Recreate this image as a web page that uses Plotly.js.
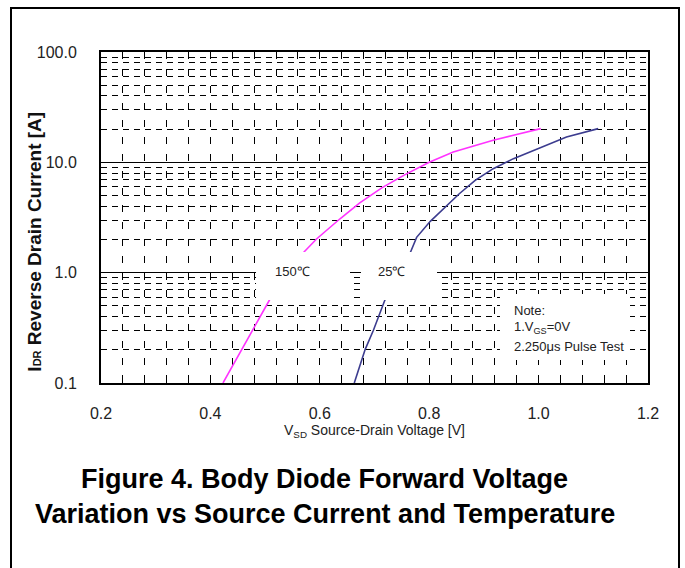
<!DOCTYPE html>
<html><head><meta charset="utf-8">
<script src="https://cdn.plot.ly/plotly-3.0.1.min.js"></script>
<style>
html,body{margin:0;padding:0;background:#fff;overflow:hidden}
#chart{width:685px;height:568px;}
#frame{position:absolute;left:10px;top:7px;width:666px;height:600px;border:2px solid #000;pointer-events:none;}
</style></head><body>
<div id="chart"></div><div id="frame"></div>
<script>
// axis ticks
const xTickVals = [0.2, 0.4, 0.6, 0.8, 1.0, 1.2];
const xTickText = ["0.2", "0.4", "0.6", "0.8", "1.0", "1.2"];
const yTickVals = [0.1, 1, 10, 100];
const yTickText = ["0.1", "1.0", "10.0", "100.0"];

// series: 150 C
const v150 = [0.423, 0.476, 0.508, 0.569, 0.594, 0.637, 0.673, 0.714, 0.755, 0.800, 0.844, 0.875, 0.917, 0.954, 1.004];
const i150 = [0.10, 0.30, 0.565, 1.50, 2.02, 3.08, 4.3, 5.9, 7.7, 10.0, 12.4, 13.8, 15.85, 17.6, 20.2];
// series: 25 C
const v25 = [0.663, 0.683, 0.698, 0.719, 0.765, 0.777, 0.802, 0.835, 0.855, 0.884, 0.917, 0.954, 0.997, 1.051, 1.109];
const i25 = [0.10, 0.202, 0.301, 0.565, 1.50, 2.09, 2.92, 4.21, 5.19, 6.86, 8.76, 10.8, 13.3, 17.0, 20.2];

const seriesNames = ["150℃", "25℃"];
const noteLines = ["Note:", "1.V<sub>GS</sub>=0V", "2.250μs Pulse Test"];
const captionLines = ["Figure 4. Body Diode Forward Voltage", "Variation vs Source Current and Temperature"];
const xTitle = "V<sub>SD</sub> Source-Drain Voltage [V]";
const yTitle = "I<span style=\"font-size:11px\">DR</span> Reverse Drain Current [A]";

const FONT = "Liberation Sans, Arial, sans-serif";

const traces = [
  {x: v150, y: i150, name: seriesNames[0], mode: "lines", line: {color: "#ff33ff", width: 1.6}},
  {x: v25, y: i25, name: seriesNames[1], mode: "lines", line: {color: "#3c3c8f", width: 1.6}}
];

function box(x0, x1, y0, y1) {
  return {type: "rect", xref: "paper", yref: "paper", x0: x0, x1: x1, y0: y0, y1: y1,
          fillcolor: "#fff", line: {width: 0}, layer: "above"};
}

const layout = {
  width: 685, height: 568,
  margin: {l: 101, r: 37, t: 52, b: 185},
  paper_bgcolor: "#fff", plot_bgcolor: "#fff",
  showlegend: false,
  font: {family: FONT, color: "#222", size: 14},
  xaxis: {
    range: [0.2, 1.2], tickvals: xTickVals, ticktext: xTickText,
    ticks: "inside", ticklen: 4, tickcolor: "#000", tickwidth: 1,
    showline: true, linecolor: "#000", linewidth: 2, mirror: true,
    showgrid: true, gridcolor: "#000", gridwidth: 1, griddash: "7px,10px",
    zeroline: false, ticklabelstandoff: 15, tickfont: {size: 16, color: "#222"},
    minor: {dtick: 0.04, tick0: 0.2, ticks: "inside", ticklen: 4, tickcolor: "#000",
            showgrid: true, gridcolor: "#000", gridwidth: 1, griddash: "7px,10px"},
    title: {text: xTitle, font: {size: 14, color: "#222"}, standoff: 1}
  },
  yaxis: {
    type: "log", range: [-1, 2], tickvals: yTickVals, ticktext: yTickText,
    ticks: "", showline: true, linecolor: "#000", linewidth: 2, mirror: true,
    showgrid: true, gridcolor: "#000", gridwidth: 1.5, zeroline: false,
    ticklabelstandoff: 19, tickfont: {size: 16, color: "#222"},
    minor: {dtick: "D1", showgrid: true, gridcolor: "#000", gridwidth: 1, griddash: "6px,5px"}
  },
  shapes: [
    box(0.2834, 0.4552, 0.2508, 0.3958),
    box(0.4753, 0.6143, 0.2508, 0.3958),
    box(0.7294, 0.9671, 0.0695, 0.2689)
  ],
  annotations: [
    {text: seriesNames[0], xref: "paper", yref: "paper", x: 0.351, y: 0.338, showarrow: false,
     font: {size: 13, color: "#222"}, xanchor: "center", yanchor: "middle"},
    {text: seriesNames[1], xref: "paper", yref: "paper", x: 0.531, y: 0.338, showarrow: false,
     font: {size: 13, color: "#222"}, xanchor: "center", yanchor: "middle"},
    {text: noteLines[0], xref: "paper", yref: "paper", x: 0.7514, y: 0.2205, showarrow: false,
     font: {size: 13, color: "#222"}, xanchor: "left", yanchor: "middle"},
    {text: noteLines[1], xref: "paper", yref: "paper", x: 0.7514, y: 0.1662, showarrow: false,
     font: {size: 13, color: "#222"}, xanchor: "left", yanchor: "middle"},
    {text: noteLines[2], xref: "paper", yref: "paper", x: 0.7514, y: 0.1088, showarrow: false,
     font: {size: 13, color: "#222"}, xanchor: "left", yanchor: "middle"},
    {text: yTitle, xref: "paper", yref: "paper", x: -0.1207, y: 0.427, showarrow: false,
     textangle: -90, font: {size: 19, color: "#111", weight: "bold"}, xanchor: "center", yanchor: "middle"},
    {text: captionLines[0], xref: "paper", yref: "paper", x: 0.4095, y: -0.29, showarrow: false,
     font: {size: 27, color: "#000", weight: "bold"}, xanchor: "center", yanchor: "middle"},
    {text: captionLines[1], xref: "paper", yref: "paper", x: 0.4095, y: -0.396, showarrow: false,
     font: {size: 27, color: "#000", weight: "bold"}, xanchor: "center", yanchor: "middle"}
  ]
};

Plotly.newPlot("chart", traces, layout, {staticPlot: true, displayModeBar: false});
</script>
</body></html>
